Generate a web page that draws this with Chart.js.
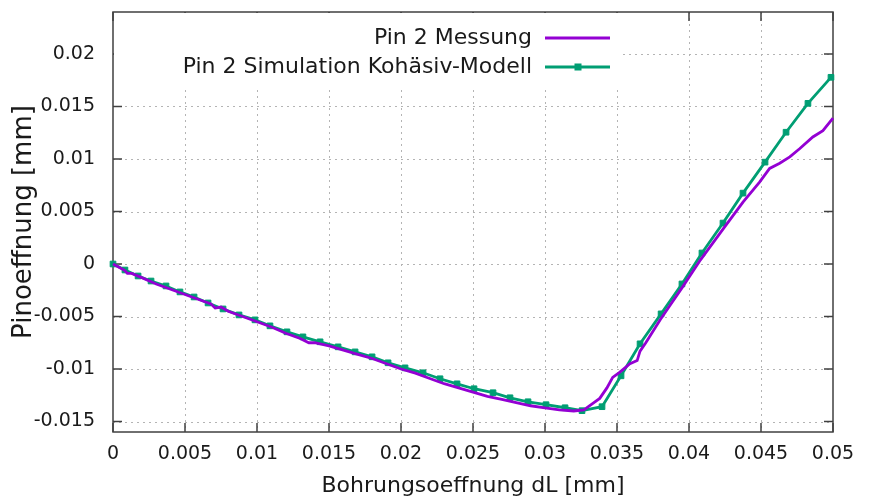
<!DOCTYPE html>
<html>
<head>
<meta charset="utf-8">
<script src="https://cdn.jsdelivr.net/npm/chart.js@4"></script>
<style>
  html, body { margin: 0; padding: 0; background: #fff; }
  #wrap { width: 876px; height: 500px; }
</style>
</head>
<body>
<div id="wrap"><canvas id="chart" width="876" height="500"></canvas></div>
<script>
// ---- data ----
const messX = [0, 0.0008, 0.0010, 0.0013, 0.002, 0.003, 0.004, 0.005, 0.006, 0.0068, 0.0071, 0.0075,
  0.008, 0.009, 0.010, 0.011, 0.012, 0.013, 0.0136, 0.014, 0.015, 0.016, 0.017, 0.018, 0.019, 0.020,
  0.021, 0.022, 0.023, 0.024, 0.025, 0.026, 0.027, 0.028, 0.029, 0.030, 0.031, 0.032, 0.0327, 0.0333,
  0.0338, 0.0343, 0.0347, 0.0352, 0.0359, 0.0364, 0.0366, 0.037, 0.038, 0.0387, 0.0395, 0.0408, 0.0424,
  0.04375, 0.0449, 0.0456, 0.0463, 0.047, 0.0477, 0.0486, 0.0493, 0.050];
const messY = [0, -0.0006, -0.0009, -0.0009, -0.0013, -0.0019, -0.0024, -0.0029, -0.0034, -0.0038, -0.0042, -0.0041,
  -0.0045, -0.0050, -0.0055, -0.0060, -0.0066, -0.0071, -0.0075, -0.0075, -0.0078, -0.0082, -0.0086, -0.0090, -0.0095, -0.0100,
  -0.0104, -0.0109, -0.0114, -0.0118, -0.0122, -0.0126, -0.0129, -0.0132, -0.0135, -0.0137, -0.0139, -0.0140, -0.0139, -0.0133,
  -0.0128, -0.0118, -0.0108, -0.0103, -0.0095, -0.0092, -0.0083, -0.0075, -0.0053, -0.0039, -0.0023, 0.0004, 0.0034,
  0.0059, 0.0078, 0.0091, 0.0096, 0.0102, 0.0110, 0.0121, 0.0127, 0.0139];

const simX = [0, 0.00083, 0.00174, 0.00264, 0.00368, 0.00465, 0.00563, 0.0066, 0.00764, 0.00875, 0.00986,
  0.0109, 0.01208, 0.01319, 0.01438, 0.01563, 0.01681, 0.01799, 0.0191, 0.02028, 0.02153, 0.02271, 0.02389,
  0.02507, 0.02639, 0.02757, 0.02882, 0.03007, 0.03139, 0.03257, 0.03396, 0.03528, 0.0366, 0.03806, 0.03951,
  0.0409, 0.04236, 0.04375, 0.04528, 0.04674, 0.04826, 0.04986];
const simY = [0, -0.00057, -0.00114, -0.00162, -0.00209, -0.00266, -0.00314, -0.00371, -0.00428, -0.00485, -0.00532,
  -0.00589, -0.00646, -0.00694, -0.00741, -0.00789, -0.00837, -0.00884, -0.00941, -0.00989, -0.01036, -0.01093, -0.01141,
  -0.01188, -0.01226, -0.01274, -0.01312, -0.0134, -0.01369, -0.01397, -0.01359, -0.01065, -0.0076, -0.00475, -0.0019,
  0.00105, 0.0039, 0.00675, 0.0097, 0.01255, 0.0153, 0.01778];

const xTicks = [0, 0.005, 0.01, 0.015, 0.02, 0.025, 0.03, 0.035, 0.04, 0.045, 0.05];
const xTickLabels = ["0", "0.005", "0.01", "0.015", "0.02", "0.025", "0.03", "0.035", "0.04", "0.045", "0.05"];
const yTicks = [-0.015, -0.01, -0.005, 0, 0.005, 0.01, 0.015, 0.02];
const yTickLabels = ["-0.015", "-0.01", "-0.005", "0", "0.005", "0.01", "0.015", "0.02"];

const seriesNames = ["Pin 2 Messung", "Pin 2 Simulation Kohäsiv-Modell"];
const seriesColors = ["#9400d3", "#009e73"];

// ---- helpers ----
function toPoints(xs, ys) {
  return xs.map((x, i) => ({ x: x, y: ys[i] }));
}

const FONT = "DejaVu Sans";
Chart.defaults.font.family = FONT;
Chart.defaults.color = "#1a1a1a";

// gnuplot-like frame: dotted grid, border, inward ticks
const framePlugin = {
  id: "frame",
  beforeDatasetsDraw(chart) {
    const { ctx, chartArea: a, scales } = chart;
    ctx.save();
    ctx.strokeStyle = "#b4b4b4";
    ctx.lineWidth = 1;
    ctx.setLineDash([2, 4]);
    xTicks.forEach((v) => {
      const px = Math.round(scales.x.getPixelForValue(v)) + 0.5;
      if (px <= a.left + 2 || px >= a.right - 2) return;
      ctx.beginPath();
      ctx.moveTo(px, a.top);
      ctx.lineTo(px, a.bottom);
      ctx.stroke();
    });
    yTicks.forEach((v) => {
      const py = Math.round(scales.y.getPixelForValue(v)) + 0.5;
      ctx.beginPath();
      ctx.moveTo(a.left, py);
      ctx.lineTo(a.right, py);
      ctx.stroke();
    });
    ctx.setLineDash([]);
    ctx.strokeStyle = "#404040";
    ctx.lineWidth = 1.5;
    ctx.strokeRect(a.left, a.top, a.right - a.left, a.bottom - a.top);
    ctx.beginPath();
    const t = 9;
    xTicks.forEach((v) => {
      const px = scales.x.getPixelForValue(v);
      ctx.moveTo(px, a.bottom);
      ctx.lineTo(px, a.bottom - t);
      ctx.moveTo(px, a.top);
      ctx.lineTo(px, a.top + t);
    });
    yTicks.forEach((v) => {
      const py = scales.y.getPixelForValue(v);
      ctx.moveTo(a.left, py);
      ctx.lineTo(a.left + t, py);
      ctx.moveTo(a.right, py);
      ctx.lineTo(a.right - t, py);
    });
    ctx.stroke();
    ctx.restore();
  },
};

// opaque key in the upper left, text right-aligned
const keyPlugin = {
  id: "key",
  afterDraw(chart) {
    const { ctx, chartArea: a } = chart;
    ctx.save();
    ctx.fillStyle = "#ffffff";
    ctx.fillRect(a.left + 1, a.top + 1, 505, 75);
    ctx.font = "22px '" + FONT + "'";
    ctx.textAlign = "right";
    ctx.textBaseline = "middle";
    const rows = [38, 67];
    seriesNames.forEach((name, i) => {
      const y = rows[i];
      ctx.fillStyle = "#1a1a1a";
      ctx.fillText(name, 532, y);
      ctx.strokeStyle = seriesColors[i];
      ctx.lineWidth = 2.8;
      ctx.beginPath();
      ctx.moveTo(545, y);
      ctx.lineTo(610, y);
      ctx.stroke();
      if (i === 1) {
        ctx.fillStyle = seriesColors[i];
        ctx.fillRect(578 - 3.5, y - 3.5, 7, 7);
      }
    });
    ctx.restore();
  },
};

// ---- chart ----
new Chart(document.getElementById("chart"), {
  type: "scatter",
  data: {
    datasets: [
      {
        label: seriesNames[0],
        data: toPoints(messX, messY),
        showLine: true,
        borderColor: seriesColors[0],
        borderWidth: 2.8,
        pointRadius: 0,
        tension: 0,
        clip: 6,
      },
      {
        label: seriesNames[1],
        data: toPoints(simX, simY),
        showLine: true,
        borderColor: seriesColors[1],
        backgroundColor: seriesColors[1],
        borderWidth: 2.8,
        pointStyle: "rect",
        pointRadius: 4,
        pointBorderWidth: 1,
        pointBorderColor: seriesColors[1],
        tension: 0,
        clip: 6,
      },
    ],
  },
  options: {
    responsive: false,
    animation: false,
    devicePixelRatio: 1,
    layout: { padding: { top: 12, right: 43, left: 0, bottom: 0 } },
    plugins: {
      legend: { display: false },
      tooltip: { enabled: false },
    },
    scales: {
      x: {
        type: "linear",
        min: 0,
        max: 0.05,
        afterBuildTicks: (scale) => {
          scale.ticks = xTicks.map((v) => ({ value: v }));
        },
        afterFit: (scale) => {
          scale.height = 68;
          scale.paddingLeft = 0;
          scale.paddingRight = 0;
        },
        ticks: {
          font: { size: 19 },
          padding: 3,
          maxRotation: 0,
          autoSkip: false,
          callback: (value, index) => xTickLabels[index],
        },
        grid: { display: false },
        border: { display: false },
        title: {
          display: true,
          text: "Bohrungsoeffnung dL [mm]",
          font: { size: 22 },
          padding: { top: 0, bottom: 1 },
        },
      },
      y: {
        type: "linear",
        min: -0.016,
        max: 0.024,
        afterBuildTicks: (scale) => {
          scale.ticks = yTicks.map((v) => ({ value: v }));
        },
        afterFit: (scale) => {
          scale.width = 113;
          scale.paddingTop = 0;
          scale.paddingBottom = 0;
        },
        ticks: {
          font: { size: 19 },
          padding: 10,
          autoSkip: false,
          callback: (value, index) => yTickLabels[index],
        },
        grid: { display: false },
        border: { display: false },
        title: {
          display: true,
          text: "Pinoeffnung [mm]",
          font: { size: 26 },
          padding: { top: 9, bottom: 0 },
        },
      },
    },
  },
  plugins: [framePlugin, keyPlugin],
});
</script>
</body>
</html>
